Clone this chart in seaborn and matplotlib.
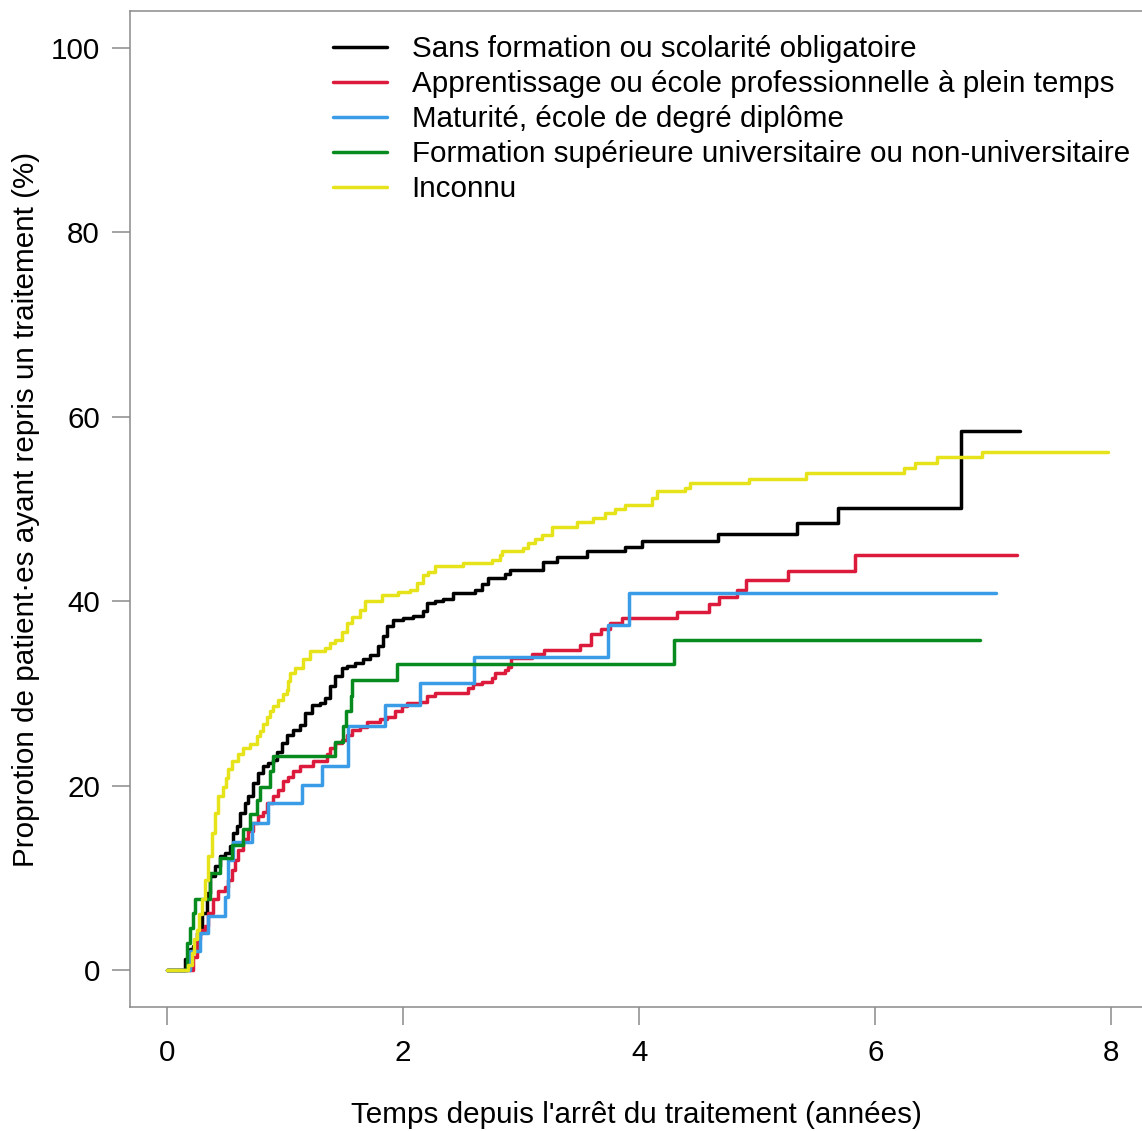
import numpy as np
import pandas as pd
import matplotlib
matplotlib.use("Agg")
import matplotlib.pyplot as plt
from matplotlib.lines import Line2D
import seaborn as sns

sns.set_theme(style="ticks")
plt.rcParams["font.family"] = ["Liberation Sans", "DejaVu Sans"]
plt.rcParams["text.color"] = "black"

# ---------------- data (time in years, cumulative % resumed) ----------------
labels = [
    "Sans formation ou scolarité obligatoire",
    "Apprentissage ou école professionnelle à plein temps",
    "Maturité, école de degré diplôme",
    "Formation supérieure universitaire ou non-universitaire",
    "Inconnu",
]
colors = ["#000000", "#DC1A3C", "#3A9BE6", "#078A1E", "#E6E31A"]

black_steps = [
    (0, 0), (0.153, 1.2), (0.195, 2.3), (0.223, 2.6), (0.252, 4.1), (0.294, 6.2),
    (0.336, 8.4), (0.364, 10.2), (0.407, 11.3), (0.449, 12.4), (0.492, 12.7),
    (0.534, 13.5), (0.562, 14.9), (0.591, 15.6), (0.619, 17.1), (0.661, 18.1),
    (0.689, 18.9), (0.731, 20.3), (0.774, 21.4), (0.816, 22.1), (0.858, 22.5),
    (0.901, 22.8), (0.930, 23.7), (0.972, 24.6), (1.014, 25.5), (1.070, 26.0),
    (1.127, 26.6), (1.169, 27.9), (1.226, 28.8), (1.297, 29.0), (1.339, 29.5),
    (1.381, 30.8), (1.424, 31.9), (1.481, 32.8), (1.523, 33.0), (1.593, 33.3),
    (1.664, 33.7), (1.720, 34.2), (1.791, 35.1), (1.833, 36.2), (1.862, 37.3),
    (1.918, 38.0), (2.003, 38.2), (2.087, 38.4), (2.172, 38.9), (2.201, 39.8),
    (2.271, 40.0), (2.342, 40.3), (2.426, 40.9), (2.610, 41.2), (2.667, 41.9),
    (2.723, 42.5), (2.864, 43.0), (2.907, 43.4), (3.189, 44.3), (3.303, 44.8),
    (3.557, 45.4), (3.881, 45.9), (4.023, 46.5), (4.669, 47.3), (5.339, 48.5),
    (5.686, 50.1), (6.729, 58.4), (7.229, 58.4),
]

red_steps = [
    (0, 0), (0.223, 1.5), (0.252, 3.4), (0.280, 4.4), (0.322, 4.8), (0.350, 6.2),
    (0.392, 7.7), (0.435, 8.6), (0.492, 9.0), (0.519, 9.8), (0.548, 10.9),
    (0.576, 12.0), (0.604, 13.1), (0.647, 14.2), (0.689, 15.1), (0.731, 16.0),
    (0.774, 16.7), (0.816, 17.2), (0.845, 18.1), (0.901, 18.9), (0.943, 19.6),
    (0.986, 20.5), (1.028, 21.0), (1.070, 21.6), (1.127, 22.1), (1.240, 22.7),
    (1.353, 23.4), (1.381, 24.1), (1.424, 24.6), (1.481, 25.0), (1.523, 25.5),
    (1.565, 26.1), (1.636, 26.4), (1.692, 26.9), (1.805, 27.2), (1.862, 27.5),
    (1.932, 28.1), (1.989, 28.6), (2.031, 29.0), (2.144, 29.1), (2.201, 29.7),
    (2.271, 30.1), (2.553, 30.6), (2.596, 31.0), (2.667, 31.3), (2.752, 31.7),
    (2.780, 32.2), (2.864, 32.6), (2.892, 32.9), (2.915, 33.8), (3.091, 34.3),
    (3.195, 34.7), (3.500, 35.3), (3.593, 36.4), (3.678, 37.0), (3.750, 37.6),
    (3.853, 38.2), (4.318, 38.8), (4.589, 39.7), (4.678, 40.5), (4.828, 41.2),
    (4.901, 42.3), (5.263, 43.3), (5.831, 45.0), (7.200, 45.0),
]

blue_steps = [
    (0, 0), (0.195, 2.1), (0.280, 4.1), (0.350, 5.9), (0.492, 8.0), (0.519, 12.0),
    (0.559, 13.9), (0.718, 16.0), (0.858, 18.1), (1.142, 20.1), (1.311, 22.2),
    (1.536, 26.5), (1.847, 28.8), (2.144, 31.1), (2.602, 34.0), (3.740, 37.4),
    (3.918, 40.9), (7.023, 40.9),
]

green_steps = [
    (0, 0), (0.167, 3.0), (0.195, 4.6), (0.220, 6.2), (0.237, 7.7), (0.364, 10.6),
    (0.449, 12.2), (0.548, 13.6), (0.647, 15.3), (0.703, 16.9), (0.760, 18.5),
    (0.788, 19.9), (0.873, 21.6), (0.901, 23.2), (1.424, 24.8), (1.494, 26.5),
    (1.519, 28.1), (1.555, 29.7), (1.569, 31.5), (1.947, 33.2), (4.291, 35.8),
    (6.890, 35.8),
]

yellow_steps = [
    (0, 0), (0.181, 0.6), (0.209, 1.9), (0.229, 3.4), (0.252, 4.4), (0.271, 6.1),
    (0.294, 7.7), (0.322, 9.8), (0.350, 12.4), (0.379, 14.9), (0.407, 17.1),
    (0.435, 18.9), (0.477, 19.9), (0.500, 20.9), (0.519, 21.8), (0.548, 22.7),
    (0.604, 23.4), (0.647, 24.1), (0.703, 24.5), (0.760, 25.4), (0.788, 25.9),
    (0.814, 26.7), (0.845, 27.5), (0.873, 28.1), (0.901, 28.6), (0.943, 29.3),
    (0.983, 29.9), (1.014, 30.4), (1.025, 31.4), (1.042, 32.2), (1.085, 32.8),
    (1.155, 33.7), (1.212, 34.6), (1.339, 34.9), (1.381, 35.5), (1.424, 35.8),
    (1.481, 36.7), (1.523, 37.6), (1.565, 38.3), (1.636, 39.1), (1.678, 40.0),
    (1.819, 40.7), (1.960, 41.0), (2.059, 41.2), (2.116, 42.0), (2.172, 42.9),
    (2.214, 43.2), (2.271, 43.8), (2.511, 44.1), (2.752, 44.5), (2.822, 45.0),
    (2.836, 45.5), (3.019, 45.8), (3.062, 46.3), (3.119, 46.7), (3.175, 47.2),
    (3.260, 48.1), (3.472, 48.6), (3.613, 49.0), (3.712, 49.6), (3.797, 50.0),
    (3.881, 50.4), (4.108, 51.2), (4.153, 51.9), (4.390, 52.3), (4.432, 52.8),
    (4.931, 53.3), (5.414, 53.9), (6.242, 54.4), (6.339, 55.0), (6.525, 55.6),
    (6.903, 56.2), (7.969, 56.2),
]

x_ticks = [0, 2, 4, 6, 8]
y_ticks = [0, 20, 40, 60, 80, 100]
x_label = "Temps depuis l'arrêt du traitement (années)"
y_label = "Proprotion de patient·es ayant repris un traitement (%)"

# ---------------- build long table ----------------
series = [black_steps, red_steps, blue_steps, green_steps, yellow_steps]
rows = []
for lab, steps in zip(labels, series):
    for t, v in steps:
        rows.append({"t": t, "v": v, "group": lab})
df = pd.DataFrame(rows)

# ---------------- figure ----------------
W, H = 1142, 1131
FS = 21.3
LW = 2.5
fig = plt.figure(figsize=(W / 100, H / 100), dpi=100)
ax = fig.add_axes([130 / W, (H - 1007.3) / H, 1 - 130 / W, 996.6 / H])

sns.lineplot(
    data=df, x="t", y="v", hue="group", hue_order=labels,
    palette=dict(zip(labels, colors)), estimator=None, sort=False,
    drawstyle="steps-post", linewidth=LW, legend=False, ax=ax,
)

ax.set_xlim(-0.3135, (W - 167) / 118.04)
ax.set_ylim(-4, 104)
ax.set_xticks(x_ticks)
ax.set_yticks(y_ticks)
ax.set_xticklabels([str(x) for x in x_ticks])
ax.set_yticklabels([str(y) for y in y_ticks])

spine_col = "#8a8a8a"
for side in ["left", "top", "bottom"]:
    ax.spines[side].set_color(spine_col)
    ax.spines[side].set_linewidth(1.1)
    ax.spines[side].set_visible(True)
ax.spines["right"].set_visible(False)
ax.tick_params(axis="both", direction="out", length=13, width=1.1,
               color=spine_col, labelcolor="black", labelsize=FS)
ax.tick_params(axis="x", pad=9.5)
ax.tick_params(axis="y", pad=8.6)

ax.set_xlabel(x_label, fontsize=FS, color="black")
ax.set_ylabel(y_label, fontsize=FS, color="black")
ax.xaxis.set_label_coords(0.5, -0.094)
ax.yaxis.set_label_coords(-0.089, 0.5)

handles = [Line2D([], [], color=c, lw=LW) for c in colors]
ax.legend(handles, labels, loc="upper left",
          bbox_to_anchor=(333 / W, 1 - 35 / H), bbox_transform=fig.transFigure,
          frameon=False, fontsize=FS, handlelength=1.83, handletextpad=0.83,
          labelspacing=0.24, borderpad=0, borderaxespad=0, labelcolor="black")

fig.savefig("out.png", dpi=100)
